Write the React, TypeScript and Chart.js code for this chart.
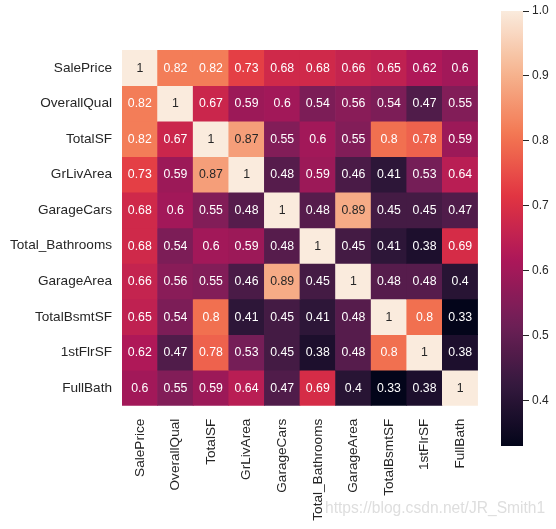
import React, { useEffect, useRef } from "react";
import { Chart, registerables } from "chart.js";

Chart.register(...registerables);

// ---------- data ----------
const features = [
  "SalePrice",
  "OverallQual",
  "TotalSF",
  "GrLivArea",
  "GarageCars",
  "Total_Bathrooms",
  "GarageArea",
  "TotalBsmtSF",
  "1stFlrSF",
  "FullBath",
];

const rowSalePrice = [1, 0.82, 0.82, 0.73, 0.68, 0.68, 0.66, 0.65, 0.62, 0.6];
const rowOverallQual = [0.82, 1, 0.67, 0.59, 0.6, 0.54, 0.56, 0.54, 0.47, 0.55];
const rowTotalSF = [0.82, 0.67, 1, 0.87, 0.55, 0.6, 0.55, 0.8, 0.78, 0.59];
const rowGrLivArea = [0.73, 0.59, 0.87, 1, 0.48, 0.59, 0.46, 0.41, 0.53, 0.64];
const rowGarageCars = [0.68, 0.6, 0.55, 0.48, 1, 0.48, 0.89, 0.45, 0.45, 0.47];
const rowTotalBathrooms = [0.68, 0.54, 0.6, 0.59, 0.48, 1, 0.45, 0.41, 0.38, 0.69];
const rowGarageArea = [0.66, 0.56, 0.55, 0.46, 0.89, 0.45, 1, 0.48, 0.48, 0.4];
const rowTotalBsmtSF = [0.65, 0.54, 0.8, 0.41, 0.45, 0.41, 0.48, 1, 0.8, 0.33];
const row1stFlrSF = [0.62, 0.47, 0.78, 0.53, 0.45, 0.38, 0.48, 0.8, 1, 0.38];
const rowFullBath = [0.6, 0.55, 0.59, 0.64, 0.47, 0.69, 0.4, 0.33, 0.38, 1];

const matrix = [
  rowSalePrice,
  rowOverallQual,
  rowTotalSF,
  rowGrLivArea,
  rowGarageCars,
  rowTotalBathrooms,
  rowGarageArea,
  rowTotalBsmtSF,
  row1stFlrSF,
  rowFullBath,
];

const vmin = 0.33;
const vmax = 1.0;
const colorbarTicks = [0.4, 0.5, 0.6, 0.7, 0.8, 0.9, 1.0];

// ---------- styles ----------
const FONT = "'Liberation Sans', Arial, Helvetica, sans-serif";
const TEXT_DARK = "#262626";

const ROCKET: [number, string][] = [
  [0, "#03051A"],
  [1 / 7, "#35193E"],
  [2 / 7, "#701F57"],
  [3 / 7, "#AD1759"],
  [4 / 7, "#E13342"],
  [5 / 7, "#F37651"],
  [6 / 7, "#F6B48F"],
  [1, "#FAEBDD"],
];

function hexToRgb(h: string): number[] {
  const n = parseInt(h.slice(1), 16);
  return [(n >> 16) & 255, (n >> 8) & 255, n & 255];
}

function rocketRgb(t: number): number[] {
  const u = Math.max(0, Math.min(1, t));
  for (let i = 0; i < ROCKET.length - 1; i++) {
    const [p0, c0] = ROCKET[i];
    const [p1, c1] = ROCKET[i + 1];
    if (u <= p1) {
      const f = (u - p0) / (p1 - p0);
      const a = hexToRgb(c0);
      const b = hexToRgb(c1);
      return a.map((v, k) => Math.round(v + (b[k] - v) * f));
    }
  }
  return hexToRgb(ROCKET[ROCKET.length - 1][1]);
}

function rgbStr(c: number[]) {
  return `rgb(${c[0]},${c[1]},${c[2]})`;
}

function norm(v: number) {
  return (v - vmin) / (vmax - vmin);
}

function luminance(c: number[]) {
  const lin = c.map((x) => {
    const s = x / 255;
    return s <= 0.03928 ? s / 12.92 : Math.pow((s + 0.055) / 1.055, 2.4);
  });
  return 0.2126 * lin[0] + 0.7152 * lin[1] + 0.0722 * lin[2];
}

function fmt(v: number) {
  return String(Number(v.toPrecision(2)));
}

const annotatePlugin = {
  id: "annotate",
  afterDatasetsDraw(chart: any) {
    const ctx = chart.ctx;
    ctx.save();
    ctx.font = `12.3px ${FONT}`;
    ctx.textAlign = "center";
    ctx.textBaseline = "middle";
    chart.data.datasets.forEach((_ds: any, r: number) => {
      const meta = chart.getDatasetMeta(r);
      meta.data.forEach((bar: any, c: number) => {
        const { x, y, base } = bar.getProps(["x", "y", "base"], true);
        const v = matrix[r][c];
        const col = rocketRgb(norm(v));
        ctx.fillStyle = luminance(col) > 0.408 ? TEXT_DARK : "#FFFFFF";
        ctx.fillText(fmt(v), x, (y + base) / 2 + 0.5);
      });
    });
    ctx.restore();
  },
};

export default function App() {
  const mainRef = useRef<HTMLCanvasElement>(null);
  const cbRef = useRef<HTMLCanvasElement>(null);

  useEffect(() => {
    const main = new Chart(mainRef.current!, {
      type: "bar",
      data: {
        labels: features,
        datasets: features.map((name, r) => ({
          label: name,
          data: matrix[r].map(() => 1),
          backgroundColor: matrix[r].map((v) => rgbStr(rocketRgb(norm(v)))),
          borderWidth: 0,
          barPercentage: 1,
          categoryPercentage: 1,
          yAxisID: "y",
          xAxisID: "x",
          stack: "cells",
        })),
      },
      options: {
        animation: false,
        responsive: false,
        events: [],
        layout: { padding: { top: 50, right: 11, left: 0, bottom: 0 } },
        plugins: { legend: { display: false }, tooltip: { enabled: false } },
        scales: {
          x: {
            type: "category",
            stacked: true,
            grid: { display: false, drawTicks: false },
            border: { display: false },
            ticks: {
              autoSkip: false,
              maxRotation: 90,
              minRotation: 90,
              padding: 13,
              color: TEXT_DARK,
              font: { family: FONT, size: 13.6 },
            },
            afterFit: (s: any) => {
              s.height = 123.3;
            },
          },
          y: {
            type: "linear",
            stacked: true,
            min: 0,
            max: features.length,
            reverse: true,
            display: false,
          },
          rows: {
            type: "category",
            labels: features,
            position: "left",
            offset: true,
            grid: { display: false, drawTicks: false },
            border: { display: false },
            ticks: {
              autoSkip: false,
              padding: 10,
              color: TEXT_DARK,
              font: { family: FONT, size: 13.6 },
            },
            afterFit: (s: any) => {
              s.width = 122;
            },
          },
        },
      } as any,
      plugins: [annotatePlugin],
    });

    const cb = new Chart(cbRef.current!, {
      type: "bar",
      data: {
        labels: ["colorbar"],
        datasets: [
          {
            data: [[vmin, vmax]],
            borderWidth: 0,
            barPercentage: 1,
            categoryPercentage: 1,
            backgroundColor: (ctx: any) => {
              const chart = ctx.chart;
              const ya = chart.scales.y;
              if (!chart.chartArea || !ya) return rgbStr(rocketRgb(0.5));
              const g = chart.ctx.createLinearGradient(
                0,
                ya.getPixelForValue(vmin),
                0,
                ya.getPixelForValue(vmax)
              );
              const n = 40;
              for (let i = 0; i <= n; i++) {
                g.addColorStop(i / n, rgbStr(rocketRgb(i / n)));
              }
              return g;
            },
          } as any,
        ],
      },
      options: {
        animation: false,
        responsive: false,
        events: [],
        layout: { padding: { top: 11, left: 11, right: 0, bottom: 83 } },
        plugins: { legend: { display: false }, tooltip: { enabled: false } },
        scales: {
          x: { display: false },
          y: {
            type: "linear",
            position: "right",
            min: vmin,
            max: vmax,
            afterBuildTicks: (s: any) => {
              s.ticks = colorbarTicks.map((v) => ({ value: v }));
            },
            grid: {
              drawOnChartArea: false,
              drawTicks: true,
              tickLength: 6,
              color: TEXT_DARK,
              lineWidth: 1,
            },
            border: { display: false },
            ticks: {
              padding: 3,
              color: TEXT_DARK,
              font: { family: FONT, size: 12 },
              callback: (v: any) => Number(v).toFixed(1),
            },
            afterFit: (s: any) => {
              s.width = 33;
            },
          },
        },
      } as any,
    });

    return () => {
      main.destroy();
      cb.destroy();
    };
  }, []);

  return (
    <div
      style={{
        position: "fixed",
        left: 0,
        top: 0,
        width: 556,
        height: 529,
        background: "#FFFFFF",
        overflow: "hidden",
      }}
    >
      <canvas
        ref={mainRef}
        width={490}
        height={529}
        style={{ position: "absolute", left: 0, top: 0, width: 490, height: 529 }}
      />
      <canvas
        ref={cbRef}
        width={66}
        height={529}
        style={{ position: "absolute", left: 490, top: 0, width: 66, height: 529 }}
      />
      <div
        style={{
          position: "absolute",
          left: 325,
          top: 500,
          fontFamily: FONT,
          fontSize: 15.6,
          lineHeight: "16px",
          color: "#DEDEDE",
          whiteSpace: "nowrap",
          pointerEvents: "none",
        }}
      >
        https://blog.csdn.net/JR_Smith1
      </div>
    </div>
  );
}
